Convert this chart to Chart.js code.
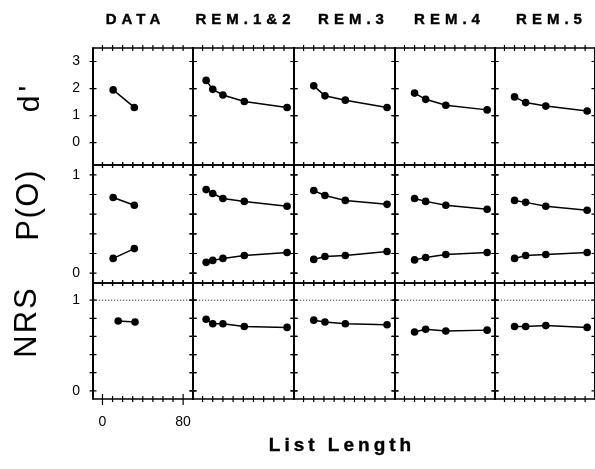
<!DOCTYPE html>
<html><head><meta charset="utf-8">
<script src="https://cdn.jsdelivr.net/npm/chart.js@4.4.1/dist/chart.umd.min.js"></script>
<style>
html,body{margin:0;padding:0;background:#fff}
body{width:595px;height:469px;position:relative;overflow:hidden;font-family:"Liberation Sans",Arial,Helvetica,sans-serif;color:#000}
canvas{position:absolute}
.ct{position:absolute;top:11px;font-size:15px;font-weight:bold;letter-spacing:5px;padding-left:5px;transform:translateX(-50%);white-space:nowrap;line-height:16px;-webkit-text-stroke:0.4px #000}
.rl{position:absolute;font-size:31px;line-height:31px;white-space:nowrap;transform:translate(-50%,-50%) rotate(-90deg)}
.xl{position:absolute;font-size:19px;font-weight:bold;letter-spacing:4px;padding-left:4px;transform:translate(-50%,-50%);white-space:nowrap;-webkit-text-stroke:0.4px #000}
</style></head>
<body>
<script>
// ---------- data ----------
const columns = ['DATA', 'REM.1&2', 'REM.3', 'REM.4', 'REM.5'];
const rowLabels = ["d'", 'P(O)', 'NRS'];
const xAxisTitle = 'List Length';

const xData = [10.6, 31.6];
const xDataNrs = [15.6, 32.3];
const xRem12 = [3.5, 10, 20, 41, 83];
const xRem = [10, 21, 41, 82];

const dprimeData  = [1.95, 1.30];
const dprimeRem12 = [2.30, 1.97, 1.76, 1.52, 1.30];
const dprimeRem3  = [2.10, 1.73, 1.57, 1.30];
const dprimeRem4  = [1.83, 1.60, 1.38, 1.21];
const dprimeRem5  = [1.69, 1.48, 1.35, 1.17];

const hitData  = [0.77, 0.69];
const faData   = [0.15, 0.25];
const hitRem12 = [0.85, 0.81, 0.76, 0.73, 0.68];
const faRem12  = [0.11, 0.13, 0.15, 0.18, 0.21];
const hitRem3  = [0.84, 0.79, 0.74, 0.70];
const faRem3   = [0.14, 0.17, 0.18, 0.22];
const hitRem4  = [0.76, 0.73, 0.69, 0.65];
const faRem4   = [0.135, 0.16, 0.19, 0.21];
const hitRem5  = [0.74, 0.72, 0.68, 0.64];
const faRem5   = [0.15, 0.18, 0.19, 0.21];

const nrsData  = [0.77, 0.76];
const nrsRem12 = [0.79, 0.74, 0.74, 0.71, 0.70];
const nrsRem3  = [0.78, 0.76, 0.74, 0.73];
const nrsRem4  = [0.65, 0.68, 0.66, 0.67];
const nrsRem5  = [0.71, 0.71, 0.72, 0.70];

const dprimeTickLabels = [0, 1, 2, 3];
const probTickLabels = [0, 1];
const probMinorTicks = [0, 0.2, 0.4, 0.6, 0.8, 1];
const xTickLabels = [0, 80];
const xMinorTicks = [0, 10, 20, 30, 40, 50, 60, 70, 80];
const nrsReference = 1;

// ---------- layout ----------
const colLeft = [93, 193, 294, 395, 495];
const colWidth = [100, 101, 101, 100, 100];
const rowTop = [48, 165, 283];
const rowHeight = [117, 118, 116];
const colTitleX = [133, 243, 351, 447, 549];
const xRange = [-9.4, 89.8];

const rowsCfg = [
  {min: -0.83, max: 3.5, labels: dprimeTickLabels, minor: dprimeTickLabels, ref: null,
   panels: [[xData, [dprimeData]], [xRem12, [dprimeRem12]], [xRem, [dprimeRem3]], [xRem, [dprimeRem4]], [xRem, [dprimeRem5]]]},
  {min: -0.1, max: 1.1, labels: probTickLabels, minor: probMinorTicks, ref: null,
   panels: [[xData, [hitData, faData]], [xRem12, [hitRem12, faRem12]], [xRem, [hitRem3, faRem3]], [xRem, [hitRem4, faRem4]], [xRem, [hitRem5, faRem5]]]},
  {min: -0.09, max: 1.19, labels: probTickLabels, minor: probMinorTicks, ref: nrsReference,
   panels: [[xDataNrs, [nrsData]], [xRem12, [nrsRem12]], [xRem, [nrsRem3]], [xRem, [nrsRem4]], [xRem, [nrsRem5]]]}
];

Chart.defaults.font.family = "'Liberation Sans', Arial, Helvetica, sans-serif";
Chart.defaults.color = '#000';

const framePlugin = {
  id: 'frame',
  beforeDatasetsDraw(chart, args, o) {
    const {ctx, chartArea: a} = chart;
    const x = chart.scales.x, y = chart.scales.y;
    ctx.save();
    if (o.ref != null) {
      const py = y.getPixelForValue(o.ref);
      ctx.setLineDash([1.2, 1.8]);
      ctx.strokeStyle = '#333';
      ctx.lineWidth = 1;
      ctx.beginPath(); ctx.moveTo(a.left, py); ctx.lineTo(a.right, py); ctx.stroke();
      ctx.setLineDash([]);
    }
    ctx.strokeStyle = '#000';
    ctx.lineWidth = 1.5;
    ctx.beginPath();
    ctx.moveTo(a.left, a.top); ctx.lineTo(a.right, a.top);
    ctx.moveTo(a.left, a.bottom); ctx.lineTo(a.right, a.bottom);
    ctx.stroke();
    ctx.lineWidth = 2;
    ctx.beginPath();
    ctx.moveTo(a.left, a.top - 0.75); ctx.lineTo(a.left, a.bottom + 0.75);
    ctx.moveTo(a.right, a.top - 0.75); ctx.lineTo(a.right, a.bottom + 0.75);
    ctx.stroke();
    ctx.lineWidth = 1.2;
    ctx.beginPath();
    o.xMinor.forEach(v => {
      const px = x.getPixelForValue(v);
      ctx.moveTo(px, a.top - 3); ctx.lineTo(px, a.top + 3);
      ctx.moveTo(px, a.bottom - 3); ctx.lineTo(px, a.bottom + 3);
    });
    o.yMinor.forEach(v => {
      const py = y.getPixelForValue(v);
      ctx.moveTo(a.left - 3.5, py); ctx.lineTo(a.left + 3.5, py);
      ctx.moveTo(a.right - 3.5, py); ctx.lineTo(a.right + 3.5, py);
    });
    (o.xMajor || []).forEach(v => {
      const px = x.getPixelForValue(v);
      ctx.moveTo(px, a.bottom - 5); ctx.lineTo(px, a.bottom + 6);
    });
    ctx.stroke();
    ctx.restore();
  }
};

const PAD = 30;
rowsCfg.forEach((row, r) => {
  row.panels.forEach((p, c) => {
    const showY = c === 0;
    const showX = (r === 2 && c === 0);
    const padL = showY ? 50 : PAD;
    const padB = showX ? 40 : PAD;
    const cv = document.createElement('canvas');
    const W = colWidth[c] + padL + PAD, H = rowHeight[r] + PAD + padB;
    cv.width = W; cv.height = H;
    cv.style.width = W + 'px'; cv.style.height = H + 'px';
    cv.style.left = (colLeft[c] - padL) + 'px';
    cv.style.top = (rowTop[r] - PAD) + 'px';
    document.body.appendChild(cv);
    const xs = p[0];
    const datasets = p[1].map(ys => ({
      data: ys.map((v, i) => ({x: xs[i], y: v})),
      showLine: true, borderColor: '#000', borderWidth: 1.5,
      backgroundColor: '#000', pointBackgroundColor: '#000', pointBorderWidth: 0,
      pointRadius: 3.8, pointHoverRadius: 3.8, clip: false
    }));
    const xScale = {
      type: 'linear', min: xRange[0], max: xRange[1], display: showX,
      grid: {display: false, drawTicks: false}, border: {display: false},
      ticks: {font: {size: 14}, padding: 15, maxRotation: 0, autoSkip: false, color: '#000'}
    };
    const yScale = {
      type: 'linear', min: row.min, max: row.max, display: showY,
      grid: {display: false, drawTicks: false}, border: {display: false},
      ticks: {font: {size: 14}, padding: 13, autoSkip: false, color: '#000'}
    };
    if (showX) {
      xScale.afterBuildTicks = s => { s.ticks = xTickLabels.map(v => ({value: v})); };
      xScale.afterFit = s => { s.height = 40; };
    }
    if (showY) {
      const lbl = row.labels;
      yScale.afterBuildTicks = s => { s.ticks = lbl.map(v => ({value: v})); };
      yScale.afterFit = s => { s.width = 50; };
    }
    new Chart(cv, {
      type: 'scatter',
      data: {datasets},
      options: {
        responsive: false, animation: false, devicePixelRatio: 1, events: [],
        layout: {padding: {left: showY ? 0 : PAD, right: PAD, top: PAD, bottom: showX ? 0 : PAD}},
        scales: {x: xScale, y: yScale},
        plugins: {legend: {display: false}, tooltip: {enabled: false},
          frame: {xMinor: xMinorTicks, yMinor: row.minor, ref: row.ref, xMajor: showX ? xTickLabels : null}}
      },
      plugins: [framePlugin]
    });
  });
});

// ---------- text ----------
columns.forEach((t, c) => {
  const d = document.createElement('div');
  d.className = 'ct'; d.textContent = t; d.style.left = colTitleX[c] + 'px';
  document.body.appendChild(d);
});
const rowLabelPos = [[28, 97, 30, 4], [27, 205, 31, 1.5], [25, 322, 31, 2]];
rowLabels.forEach((t, r) => {
  const d = document.createElement('div');
  d.className = 'rl'; d.textContent = t;
  d.style.left = rowLabelPos[r][0] + 'px'; d.style.top = rowLabelPos[r][1] + 'px';
  d.style.fontSize = rowLabelPos[r][2] + 'px';
  d.style.letterSpacing = rowLabelPos[r][3] + 'px';
  document.body.appendChild(d);
});
const xl = document.createElement('div');
xl.className = 'xl'; xl.textContent = xAxisTitle;
xl.style.left = '340px'; xl.style.top = '445px';
document.body.appendChild(xl);
</script>
</body></html>
